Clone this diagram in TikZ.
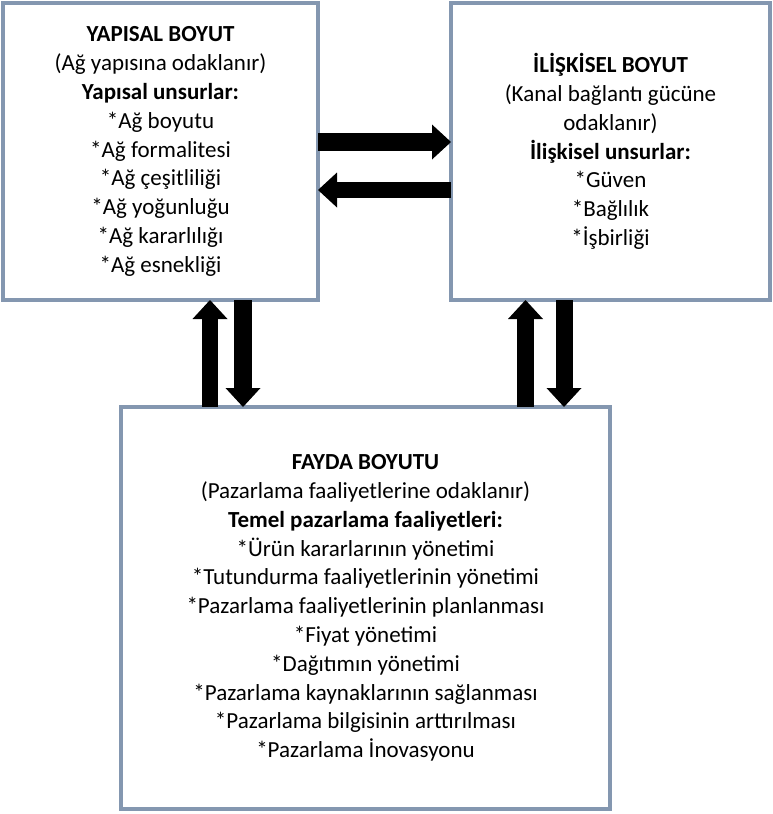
\documentclass[tikz,border=0pt]{standalone}
\usepackage{fontspec}
\setmainfont{Carlito}
\usetikzlibrary{arrows.meta}
\definecolor{boxline}{HTML}{8497B0}

\begin{document}
\begin{tikzpicture}[x=1pt,y=-1pt,
  dim/.style={draw=boxline,line width=4pt,outer sep=0pt,fill=white,align=center,
    font=\fontsize{23}{28.8}\selectfont},
  fat/.style={line width=#1,-{Triangle[width=35pt,length=19pt,line width=0pt]}}]
  \useasboundingbox (0,0) rectangle (772,814);
  % three boxes
  \node[dim,minimum width=315pt,minimum height=297pt] (yap) at (160.5,151.5)
    {\textbf{YAPISAL BOYUT}\\(Ağ yapısına odaklanır)\\\textbf{Yapısal unsurlar:}\\
     *Ağ boyutu\\*Ağ formalitesi\\*Ağ çeşitliliği\\*Ağ yoğunluğu\\*Ağ kararlılığı\\*Ağ esnekliği};
  \node[dim,minimum width=319pt,minimum height=297pt] (ilk) at (610.5,151.5)
    {\textbf{İLİŞKİSEL BOYUT}\\(Kanal bağlantı gücüne\\odaklanır)\\\textbf{İlişkisel unsurlar:}\\
     *Güven\\*Bağlılık\\*İşbirliği};
  \node[dim,minimum width=489pt,minimum height=402pt] (fay) at (365.5,608)
    {\textbf{FAYDA BOYUTU}\\(Pazarlama faaliyetlerine odaklanır)\\\textbf{Temel pazarlama faaliyetleri:}\\
     *Ürün kararlarının yönetimi\\*Tutundurma faaliyetlerinin yönetimi\\
     *Pazarlama faaliyetlerinin planlanması\\*Fiyat yönetimi\\*Dağıtımın yönetimi\\
     *Pazarlama kaynaklarının sağlanması\\*Pazarlama bilgisinin arttırılması\\
     *Pazarlama İnovasyonu};
  % arrows between the boxes
  \draw[fat=18pt] ([yshift=9.5pt]yap.east) -- ([yshift=9.5pt]ilk.west);
  \draw[fat=16pt] ([yshift=-38.5pt]ilk.west) -- ([yshift=-38.5pt]yap.east);
  \coordinate (u1) at ([xshift=49.5pt]yap.south);
  \coordinate (d1) at ([xshift=82.5pt]yap.south);
  \coordinate (u2) at ([xshift=-85pt]ilk.south);
  \coordinate (d2) at ([xshift=-46.5pt]ilk.south);
  \draw[fat=16pt] (u1 |- fay.north) -- (u1);
  \draw[fat=18pt] (d1) -- (d1 |- fay.north);
  \draw[fat=17pt] (u2 |- fay.north) -- (u2);
  \draw[fat=17pt] (d2) -- (d2 |- fay.north);
\end{tikzpicture}
\end{document}
